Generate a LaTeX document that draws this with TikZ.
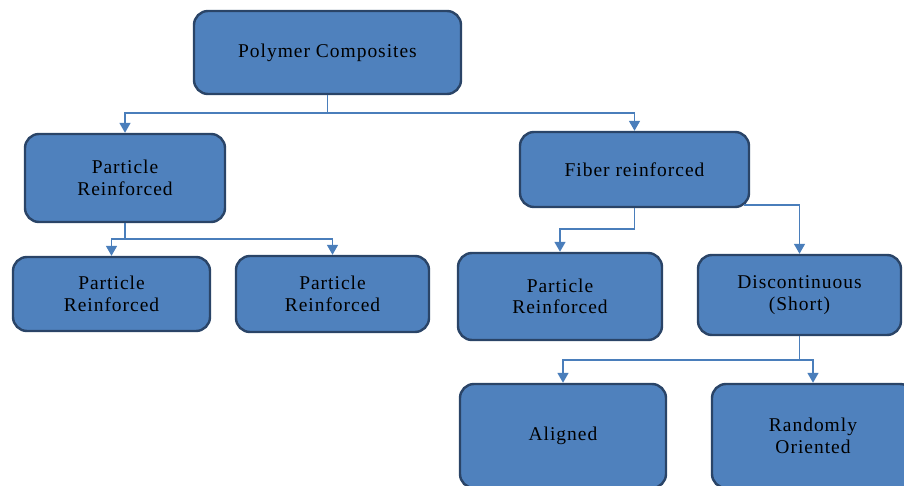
\documentclass[tikz,border=0pt]{standalone}
\usepackage{fontspec}
\setmainfont{Liberation Serif}[LetterSpace=5]
\usepackage{tikz}
\usetikzlibrary{arrows.meta,positioning}
\definecolor{boxblue}{HTML}{4F81BD}
\definecolor{boxedge}{HTML}{2A4467}
\definecolor{linkblue}{HTML}{4A7EBB}

\begin{document}
\begin{tikzpicture}[x=1pt, y=-1pt,
  every node/.style={draw=boxedge, fill=boxblue, line width=2.4pt, rounded corners=14pt,
    inner sep=0pt, font=\fontsize{19.5}{21.5}\selectfont, align=center, text=black},
  arr/.style={-{Triangle[width=11pt,length=10pt]}, line width=1.5pt, color=linkblue}
]
\useasboundingbox (0,0) rectangle (904,486);

\node[minimum width=267pt, minimum height=83pt] (pc)  at (327.5,52.5) {Polymer Composites};
\node[minimum width=200pt, minimum height=88pt] (pr)  at (125,178)    {Particle\\Reinforced};
\node[minimum width=229pt, minimum height=75pt] (fr)  at (634.5,169.5) {Fiber reinforced};
\node[minimum width=197pt, minimum height=74pt] (pra) at (111.5,294)  {Particle\\Reinforced};
\node[minimum width=193pt, minimum height=76pt] (prb) at (332.5,294)  {Particle\\Reinforced};
\node[minimum width=204pt, minimum height=87pt] (frp) at (560,296.5)  {Particle\\Reinforced};
\node[minimum width=203pt, minimum height=80pt] (dis) at (799.5,295)  {Discontinuous\\(Short)};
\node[minimum width=206pt, minimum height=104pt] (al) at (563,436)    {Aligned};
\node[minimum width=202pt, minimum height=104pt] (ro) at (813,436)    {Randomly\\Oriented};

\coordinate (frr) at ([xshift=-6pt,yshift=3pt]fr.south east);

\foreach \a in {pr, fr}
  \draw[arr] (pc.south) -- ++(0,18) -| (\a.north);
\foreach \a in {pra, prb}
  \draw[arr] (pr.south) -- ++(0,16) -| (\a.north);
\draw[arr] (fr.south) -- ++(0,21) -| (frp.north);
\draw[arr] (frr) -| (dis.north);
\foreach \a in {al, ro}
  \draw[arr] (dis.south) -- ++(0,24) -| (\a.north);
\end{tikzpicture}
\end{document}
